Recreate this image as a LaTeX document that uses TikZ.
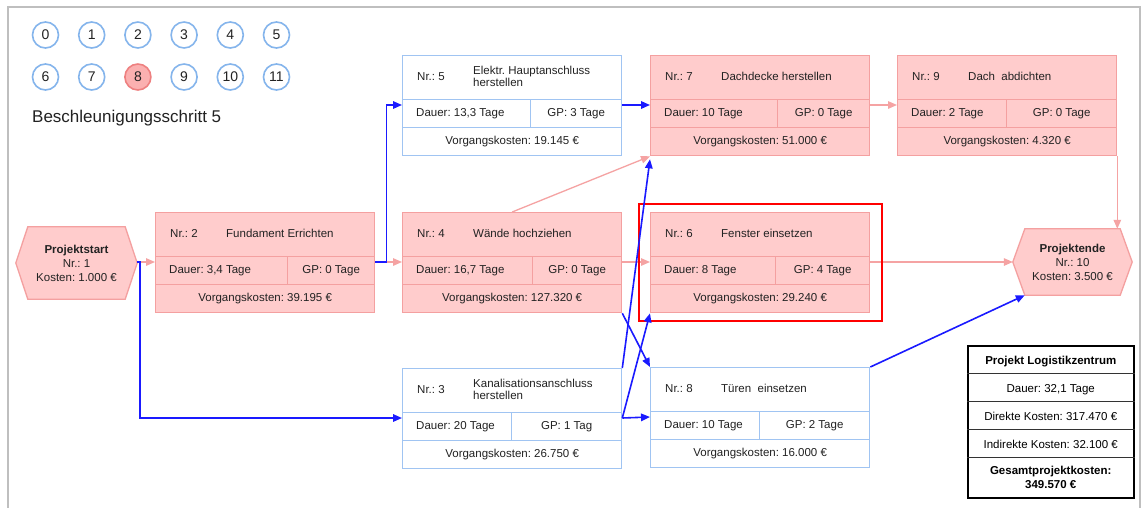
\documentclass[tikz,border=0pt]{standalone}
\usepackage{fontspec}
\setmainfont{Liberation Sans}
\usetikzlibrary{arrows.meta,calc,backgrounds}
\frenchspacing

\definecolor{taskfill}{HTML}{FFCCCC}
\definecolor{taskline}{HTML}{F4A0A0}
\definecolor{freeline}{HTML}{A0C4F2}
\definecolor{ringline}{HTML}{85B5EC}
\definecolor{ringhotfill}{HTML}{FBB0B0}
\definecolor{ringhotline}{HTML}{EE8080}
\definecolor{critarrow}{HTML}{F5A3A3}
\definecolor{linkarrow}{HTML}{1A1AFF}
\definecolor{framegray}{HTML}{BFBFBF}
\definecolor{ink}{HTML}{222222}

\tikzset{
  critbox/.style={draw=taskline, fill=taskfill, line width=1.3pt,
    minimum width=219pt, minimum height=100pt, inner sep=0pt},
  freebox/.style={draw=freeline, fill=white, line width=1.3pt,
    minimum width=219pt, minimum height=100pt, inner sep=0pt},
  critsep/.style={draw=taskline, line width=1pt},
  freesep/.style={draw=freeline, line width=1pt},
  label/.style={inner sep=0pt, text=ink},
  oneline/.style={text height=8.3pt, text depth=0pt},
  hextext/.style={inner sep=0pt, align=center, text=ink},
  hexline/.style={draw=taskline, fill=taskfill, line width=1.3pt, line join=miter},
  ring/.style={circle, draw=ringline, line width=1.6pt, minimum size=26pt,
    inner sep=0pt, font=\fontsize{14}{14}\selectfont, text=ink},
  ringhot/.style={ring, draw=ringhotline, fill=ringhotfill},
  critlink/.style={draw=critarrow, line width=1.3pt,
    -{Triangle[length=9pt,width=7.5pt]}},
  bluelink/.style={draw=linkarrow, line width=1.6pt,
    -{Triangle[length=9pt,width=7.5pt]}},
  infocell/.style={inner sep=0pt, text=black},
}

% task box: name, style, top-left, split of the middle row,
% number, title, duration, float, cost
\newcommand{\vorgang}[9]{%
  \node[#2box, anchor=north west] (#1) at (#3) {};
  \draw[#2sep] ($(#1.north west)+(0,44)$) -- ($(#1.north east)+(0,44)$);
  \draw[#2sep] ($(#1.north west)+(0,72)$) -- ($(#1.north east)+(0,72)$);
  \coordinate (#1-s1) at ($(#1.north west)+(#4,44)$);
  \coordinate (#1-s2) at ($(#1.north west)+(#4,72)$);
  \draw[#2sep] (#1-s1) -- (#1-s2);
  \node[label, oneline, anchor=west] (#1-nr) at ($(#1.north west)+(15,21.5)$) {Nr.: #5};
  \node[label, anchor=west, align=left, text depth=0pt,
    font=\fontsize{11.5}{12.5}\selectfont]
    (#1-title) at ($(#1.north west)+(71,21.5)$) {#6};
  \node[label, oneline, anchor=west] (#1-dauer) at ($(#1.north west)+(14,57.5)$) {#7};
  \node[label, oneline] (#1-gp) at ($(#1-s1)!0.5!(#1.north east |- #1-s2)+(0,-0.5)$) {#8};
  \node[label, oneline] (#1-cost) at ($(#1.north)+(0,85.5)$) {#9};
  \coordinate (#1-in) at ($(#1.north west)+(0,50)$);
  \coordinate (#1-out) at ($(#1.north east)+(0,50)$);
}

\begin{document}
\begin{tikzpicture}[x=1pt, y=-1pt, font=\fontsize{11.5}{14}\selectfont]
\useasboundingbox (0,0) rectangle (1148,507);
\begin{scope}[on background layer]
  \fill[white] (0,0) rectangle (1148,507);
\end{scope}

% surrounding frame
\draw[framegray, line width=1.5pt] (8,515) -- (8,7) -- (1140,7) -- (1140,515);

% step selector
\foreach \n in {0,...,11}{
  \pgfmathtruncatemacro{\col}{mod(\n,6)}
  \pgfmathtruncatemacro{\row}{\n/6}
  \ifnum\n=8 \def\ringstyle{ringhot}\else\def\ringstyle{ring}\fi
  \node[\ringstyle] (c\n) at ({45.5+46.2*\col},{35+42*\row}) {\n};
}
\node[label, anchor=west, font=\fontsize{17}{17}\selectfont] (steptitle)
  at (32,118) {Beschleunigungsschritt 5};

% activities
\vorgang{n2}{crit}{155,212}{132}{2}{Fundament Errichten}{Dauer: 3,4 Tage}{GP: 0 Tage}{Vorgangskosten: 39.195 €}
\vorgang{n4}{crit}{402,212}{130}{4}{Wände hochziehen}{Dauer: 16,7 Tage}{GP: 0 Tage}{Vorgangskosten: 127.320 €}
\vorgang{n6}{crit}{650,212}{125}{6}{Fenster einsetzen}{Dauer: 8 Tage}{GP: 4 Tage}{Vorgangskosten: 29.240 €}
\vorgang{n5}{free}{402,55}{128}{5}{Elektr. Hauptanschluss\\herstellen}{Dauer: 13,3 Tage}{GP: 3 Tage}{Vorgangskosten: 19.145 €}
\vorgang{n7}{crit}{650,55}{127}{7}{Dachdecke herstellen}{Dauer: 10 Tage}{GP: 0 Tage}{Vorgangskosten: 51.000 €}
\vorgang{n9}{crit}{897,55}{109}{9}{Dach~ abdichten}{Dauer: 2 Tage}{GP: 0 Tage}{Vorgangskosten: 4.320 €}
\vorgang{n3}{free}{402,368}{109}{3}{Kanalisationsanschluss\\herstellen}{Dauer: 20 Tage}{GP: 1 Tag}{Vorgangskosten: 26.750 €}
\vorgang{n8}{free}{650,367}{109}{8}{Türen~ einsetzen}{Dauer: 10 Tage}{GP: 2 Tage}{Vorgangskosten: 16.000 €}

% start and end events
\node[hextext, minimum width=97pt, minimum height=72pt] (ps) at (76.5,263)
  {\textbf{Projektstart}\\Nr.: 1\\Kosten: 1.000 €};
\node[hextext, minimum width=95pt, minimum height=66pt] (pe) at (1072.5,262)
  {\textbf{Projektende}\\Nr.: 10\\Kosten: 3.500 €};
\coordinate (ps-e) at ($(ps.east)+(12,0)$);
\coordinate (ps-w) at ($(ps.west)+(-12,0)$);
\coordinate (pe-e) at ($(pe.east)+(12,0)$);
\coordinate (pe-w) at ($(pe.west)+(-12,0)$);
\begin{scope}[on background layer]
  \draw[hexline] (ps.north west) -- (ps.north east) -- (ps-e)
    -- (ps.south east) -- (ps.south west) -- (ps-w) -- cycle;
  \draw[hexline] (pe.north west) -- (pe.north east) -- (pe-e)
    -- (pe.south east) -- (pe.south west) -- (pe-w) -- cycle;
\end{scope}

% project summary
\node[draw=black, line width=1.5pt, minimum width=166pt, minimum height=152pt,
  anchor=north west, inner sep=0pt] (info) at (967,345) {};
\foreach \dy in {28,56,84,112}{
  \draw[black!80, line width=0.9pt] ($(info.north west)+(0,\dy)$) -- ($(info.north east)+(0,\dy)$);
}
\node[infocell, oneline, font=\fontsize{11.5}{14}\bfseries] (info-a) at ($(info.north)+(0,15)$) {Projekt Logistikzentrum};
\node[infocell, oneline] (info-b) at ($(info.north)+(0,43)$) {Dauer: 32,1 Tage};
\node[infocell, oneline] (info-c) at ($(info.north)+(0,71)$) {Direkte Kosten: 317.470 €};
\node[infocell, oneline] (info-d) at ($(info.north)+(0,99)$) {Indirekte Kosten: 32.100 €};
\node[infocell, align=center, font=\fontsize{11.5}{14}\bfseries] (info-e)
  at ($(info.north)+(0,132)$) {Gesamtprojektkosten:\\349.570 €};

% critical path links
\draw[critlink] (ps-e |- n2-in) -- (n2-in);
\draw[critlink] (n2-out) -- (n4-in);
\draw[critlink] (n4-out) -- (n6-in);
\draw[critlink] (n4.north) -- (n7.south west);
\draw[critlink] (n7-out) -- (n9-in);
\draw[critlink] (n9.south east) -- (n9.south east |- pe.north);
\draw[critlink] (n6-out) -- (n6-out -| pe-w);

% highlighted activity
\node[draw=red, line width=2.4pt, minimum width=243pt, minimum height=117pt,
  anchor=north west, inner sep=0pt] (hl) at (638,203) {};

% links with float
\draw[bluelink] (ps-e |- n2-in) -- ++(3,0) |- (n3-in);
\draw[bluelink] (n2-out) -- ++(11,0) |- (n5-in);
\draw[bluelink] (n5-out) -- (n7-in);
\draw[bluelink] (n3.north east) -- ($(n7.south west)+(0,3)$);
\draw[bluelink] (n3-out) -- (n6.south west);
\draw[bluelink] (n3-out) -- (n8-in);
\draw[bluelink] (n4.south east) -- (n8.north west);
\draw[bluelink] (n8.north east) -- (pe.south west);
\end{tikzpicture}
\end{document}
